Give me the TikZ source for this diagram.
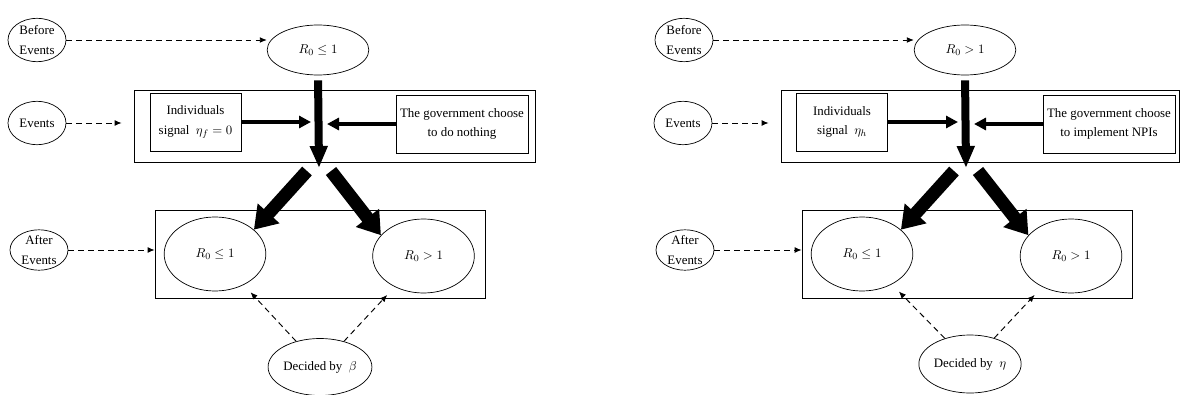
\documentclass[tikz,border=0pt]{standalone}
\usepackage{amsmath}
\usepackage{amssymb}
\usepackage{fontspec}
\setmainfont{Liberation Serif}
\usetikzlibrary{shapes.geometric,arrows.meta}

\begin{document}
\begin{tikzpicture}[x=0.03cm, y=-0.03cm,
  every node/.style = {font=\fontsize{11}{16.5}\selectfont, align=center, inner sep=0pt},
  stage/.style = {ellipse, draw, line width=0.6pt, minimum width=1.74cm, minimum height=1.3cm},
  state/.style = {ellipse, draw, line width=0.6pt, minimum width=3.05cm, minimum height=2.22cm},
  action/.style = {rectangle, draw, line width=0.6pt, minimum height=1.74cm},
  frame/.style = {rectangle, draw, line width=0.6pt},
  hint/.style = {-{Latex[length=6pt,width=5pt]}, line width=0.8pt, dash pattern=on 5pt off 3.5pt},
  flow/.style = {-{Triangle[length=0.36cm,width=0.36cm]}, line width=0.12cm},
  push/.style = {-{Triangle[length=0.66cm,width=0.5cm]}, line width=0.24cm},
  split/.style = {-{Triangle[length=0.66cm,width=0.84cm]}, line width=0.39cm},
  ]
  \useasboundingbox (0,0) rectangle (1181,395);

  % left: R0 <= 1 before events
  \node[stage] (lbefore) at (37,40) {Before\\Events};
  \node[stage] (levents) at (37,123) {Events};
  \node[stage, minimum height=1.2cm] (lafter) at (39,250) {After\\Events};
  \node[state, minimum height=1.5cm] (ltop) at (318,50) {$R_0 \leq 1$};
  \node[frame, minimum width=12.03cm, minimum height=2.16cm] (levbox) at (334.5,126) {};
  \node[action, minimum width=2.73cm] (lind) at (195.5,122) {Individuals\\signal \ $\eta_f = 0$};
  \node[action, minimum width=3.96cm] (lgov) at (462,124) {The government choose\\to do nothing};
  \node[frame, minimum width=9.9cm, minimum height=2.64cm] (lafterbox) at (320,254) {};
  \node[state] (llow) at (215,254) {$R_0 \leq 1$};
  \node[state] (lhigh) at (423.5,256) {$R_0 > 1$};
  \node[stage, minimum width=2.7cm, minimum height=1.71cm] (ldecide) at (320,367) {Decided by \ $\beta$};
  \coordinate (ldown) at (319,168);
  \coordinate (lsplitl) at (307,171);
  \coordinate (lsplitr) at (331,171);

  \draw[hint] (lbefore.east) -- (lbefore.east -| ltop.west);
  \draw[hint] (levents.east) -- ([xshift=-0.36cm]levbox.west |- levents.east);
  \draw[hint] (lafter.east) -- (lafter.east -| lafterbox.west);
  \draw[push, shorten <=0.15cm] (ltop.south) -- (ldown);
  \draw[flow, shorten >=0.24cm] (lind.east) -- (lind.east -| ldown);
  \draw[flow, shorten >=0.24cm] (lgov.west) -- (lgov.west -| ldown);
  \draw[split] (lsplitl) -- (llow.32);
  \draw[split] (lsplitr) -- (lhigh.154);
  \draw[hint, shorten >=0.3cm] (ldecide) -- (llow);
  \draw[hint, shorten >=0.33cm] (ldecide) -- (lhigh);

  % right: R0 > 1 before events
  \node[stage] (rbefore) at (684,40) {Before\\Events};
  \node[stage] (revents) at (683,123) {Events};
  \node[stage, minimum height=1.2cm] (rafter) at (685,250) {After\\Events};
  \node[state, minimum height=1.5cm] (rtop) at (965,50) {$R_0 > 1$};
  \node[frame, minimum width=11.94cm, minimum height=2.16cm] (revbox) at (980,126) {};
  \node[action, minimum width=2.73cm] (rind) at (842,122) {Individuals\\signal \ $\eta_h$};
  \node[action, minimum width=3.96cm] (rgov) at (1109,124) {The government choose\\to implement NPIs};
  \node[frame, minimum width=9.9cm, minimum height=2.64cm] (rafterbox) at (967,254) {};
  \node[state] (rlow) at (862,254) {$R_0 \leq 1$};
  \node[state] (rhigh) at (1071,256) {$R_0 > 1$};
  \node[stage, minimum width=2.76cm, minimum height=1.74cm] (rdecide) at (970,364) {Decided by \ $\eta$};
  \coordinate (rdown) at (966,168);
  \coordinate (rsplitl) at (954,171);
  \coordinate (rsplitr) at (978,171);

  \draw[hint] (rbefore.east) -- (rbefore.east -| rtop.west);
  \draw[hint] (revents.east) -- ([xshift=-0.36cm]revbox.west |- revents.east);
  \draw[hint] (rafter.east) -- (rafter.east -| rafterbox.west);
  \draw[push, shorten <=0.15cm] (rtop.south) -- (rdown);
  \draw[flow, shorten >=0.24cm] (rind.east) -- (rind.east -| rdown);
  \draw[flow, shorten >=0.24cm] (rgov.west) -- (rgov.west -| rdown);
  \draw[split] (rsplitl) -- (rlow.32);
  \draw[split] (rsplitr) -- (rhigh.154);
  \draw[hint, shorten >=0.3cm] (rdecide) -- (rlow);
  \draw[hint, shorten >=0.33cm] (rdecide) -- (rhigh);
\end{tikzpicture}
\end{document}
